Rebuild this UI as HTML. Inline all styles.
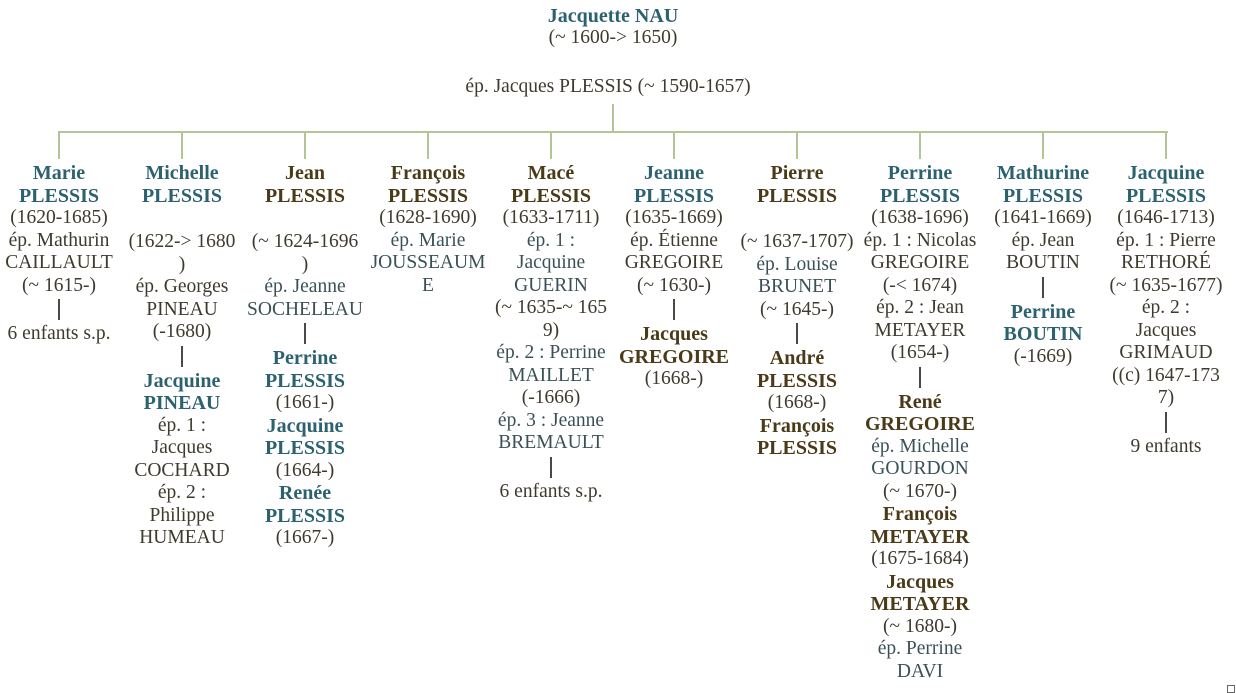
<!DOCTYPE html>
<html><head><meta charset="utf-8"><style>
body{margin:0;width:1236px;height:692px;background:#fff;position:relative;overflow:hidden;font-family:"Liberation Serif",serif;font-size:19.5px;color:#3f3a2e}
.l{position:absolute;background:#b3c596}
.c{position:absolute;top:162px;width:124px;text-align:center;line-height:22.5px;white-space:nowrap}
.c div{height:22.5px}
.t{color:#2c6170;font-weight:bold;font-size:20px}
.b{color:#4a3a18;font-weight:bold;font-size:20px}
.s{color:#3a5058}
.c .bar{height:26px;position:relative}
.c .bar:after{content:"";position:absolute;left:61px;top:2px;width:2px;height:21px;background:#4a4a44}
.c .sp{height:24px}
.h{position:absolute;left:0;width:1236px;text-align:center;line-height:22px}
</style></head><body>
<div class="h t" style="top:5px;left:-5px">Jacquette NAU</div>
<div class="h" style="top:27px;left:-5px">(~ 1600-&gt; 1650)</div>
<div class="h" style="top:76px;left:-10px">ép. Jacques PLESSIS (~ 1590-1657)</div>
<div class="l" style="left:612px;top:104px;width:2px;height:28px"></div>
<div class="l" style="left:58px;top:131px;width:1110px;height:2px"></div>
<div class="l" style="left:58px;top:131px;width:2px;height:28px"></div>
<div class="l" style="left:181px;top:131px;width:2px;height:28px"></div>
<div class="l" style="left:304px;top:131px;width:2px;height:28px"></div>
<div class="l" style="left:427px;top:131px;width:2px;height:28px"></div>
<div class="l" style="left:550px;top:131px;width:2px;height:28px"></div>
<div class="l" style="left:673px;top:131px;width:2px;height:28px"></div>
<div class="l" style="left:796px;top:131px;width:2px;height:28px"></div>
<div class="l" style="left:919px;top:131px;width:2px;height:28px"></div>
<div class="l" style="left:1042px;top:131px;width:2px;height:28px"></div>
<div class="l" style="left:1165px;top:131px;width:2px;height:28px"></div>

<div class="c" style="left:-3px">
<div class="t">Marie</div><div class="t">PLESSIS</div><div>(1620-1685)</div><div>ép. Mathurin</div><div>CAILLAULT</div><div>(~ 1615-)</div><div class="bar"></div><div>6 enfants s.p.</div></div>

<div class="c" style="left:120px">
<div class="t">Michelle</div><div class="t">PLESSIS</div><div class="sp"></div><div>(1622-&gt; 1680</div><div>)</div><div>ép. Georges</div><div>PINEAU</div><div>(-1680)</div><div class="bar"></div><div class="t">Jacquine</div><div class="t">PINEAU</div><div>ép. 1 :</div><div>Jacques</div><div>COCHARD</div><div>ép. 2 :</div><div>Philippe</div><div>HUMEAU</div></div>

<div class="c" style="left:243px">
<div class="b">Jean</div><div class="b">PLESSIS</div><div class="sp"></div><div>(~ 1624-1696</div><div>)</div><div class="s">ép. Jeanne</div><div class="s">SOCHELEAU</div><div class="bar"></div><div class="t">Perrine</div><div class="t">PLESSIS</div><div>(1661-)</div><div class="t">Jacquine</div><div class="t">PLESSIS</div><div>(1664-)</div><div class="t">Renée</div><div class="t">PLESSIS</div><div>(1667-)</div></div>

<div class="c" style="left:366px">
<div class="b">François</div><div class="b">PLESSIS</div><div>(1628-1690)</div><div class="s">ép. Marie</div><div class="s">JOUSSEAUM</div><div class="s">E</div></div>

<div class="c" style="left:489px">
<div class="b">Macé</div><div class="b">PLESSIS</div><div>(1633-1711)</div><div class="s">ép. 1 :</div><div class="s">Jacquine</div><div class="s">GUERIN</div><div>(~ 1635-~ 165</div><div>9)</div><div class="s">ép. 2 : Perrine</div><div class="s">MAILLET</div><div>(-1666)</div><div class="s">ép. 3 : Jeanne</div><div class="s">BREMAULT</div><div class="bar"></div><div>6 enfants s.p.</div></div>

<div class="c" style="left:612px">
<div class="t">Jeanne</div><div class="t">PLESSIS</div><div>(1635-1669)</div><div>ép. Étienne</div><div>GREGOIRE</div><div>(~ 1630-)</div><div class="bar"></div><div class="b">Jacques</div><div class="b">GREGOIRE</div><div>(1668-)</div></div>

<div class="c" style="left:735px">
<div class="b">Pierre</div><div class="b">PLESSIS</div><div class="sp"></div><div>(~ 1637-1707)</div><div class="s">ép. Louise</div><div class="s">BRUNET</div><div>(~ 1645-)</div><div class="bar"></div><div class="b">André</div><div class="b">PLESSIS</div><div>(1668-)</div><div class="b">François</div><div class="b">PLESSIS</div></div>

<div class="c" style="left:858px">
<div class="t">Perrine</div><div class="t">PLESSIS</div><div>(1638-1696)</div><div>ép. 1 : Nicolas</div><div>GREGOIRE</div><div>(-&lt; 1674)</div><div>ép. 2 : Jean</div><div>METAYER</div><div>(1654-)</div><div class="bar"></div><div class="b">René</div><div class="b">GREGOIRE</div><div class="s">ép. Michelle</div><div class="s">GOURDON</div><div>(~ 1670-)</div><div class="b">François</div><div class="b">METAYER</div><div>(1675-1684)</div><div class="b">Jacques</div><div class="b">METAYER</div><div>(~ 1680-)</div><div class="s">ép. Perrine</div><div class="s">DAVI</div></div>

<div class="c" style="left:981px">
<div class="t">Mathurine</div><div class="t">PLESSIS</div><div>(1641-1669)</div><div>ép. Jean</div><div>BOUTIN</div><div class="bar"></div><div class="t">Perrine</div><div class="t">BOUTIN</div><div>(-1669)</div></div>

<div class="c" style="left:1104px">
<div class="t">Jacquine</div><div class="t">PLESSIS</div><div>(1646-1713)</div><div>ép. 1 : Pierre</div><div>RETHORÉ</div><div>(~ 1635-1677)</div><div>ép. 2 :</div><div>Jacques</div><div>GRIMAUD</div><div>((c) 1647-173</div><div>7)</div><div class="bar"></div><div>9 enfants</div></div>

<div style="position:absolute;left:1227px;top:685px;width:6px;height:6px;border:1px solid #666"></div>
</body></html>
